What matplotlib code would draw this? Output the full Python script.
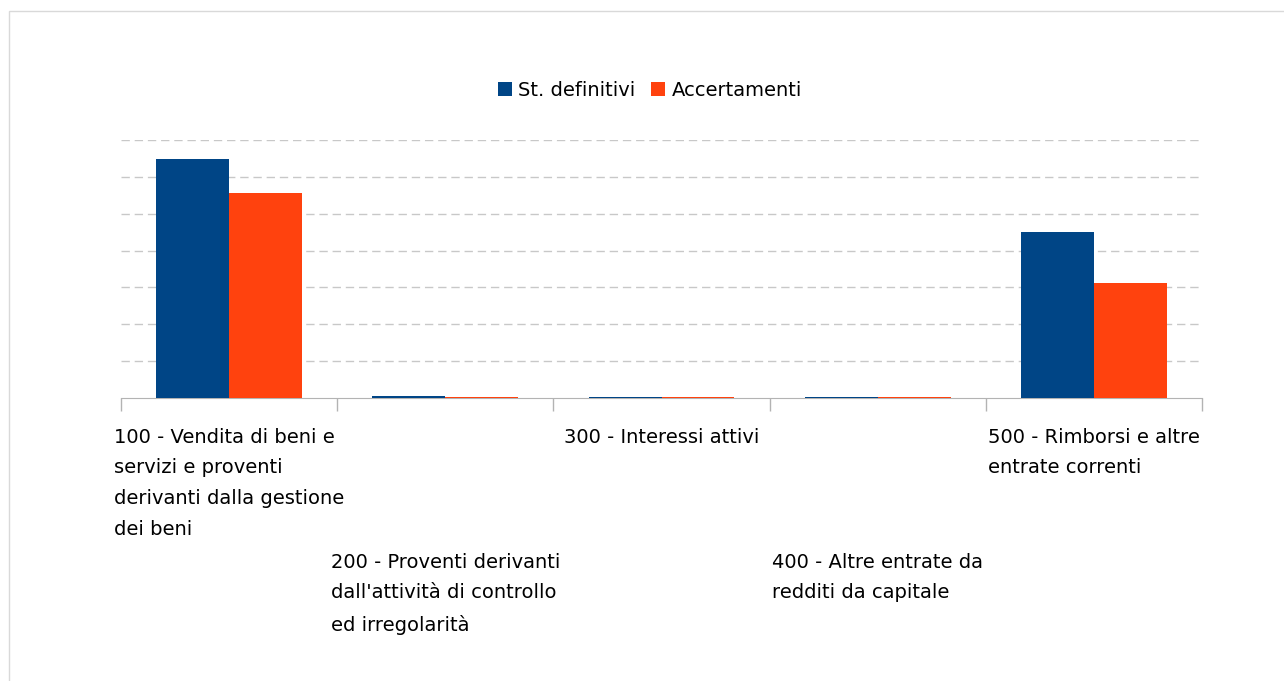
import matplotlib.pyplot as plt
import matplotlib.transforms as mtransforms
from matplotlib.patches import Rectangle
import numpy as np

# dati (unità arbitrarie)
categorie = ['100 - Vendita di beni e\nservizi e proventi\nderivanti dalla gestione\ndei beni',
             '200 - Proventi derivanti\ndall\'attività di controllo\ned irregolarità',
             '300 - Interessi attivi',
             '400 - Altre entrate da\nredditi da capitale',
             '500 - Rimborsi e altre\nentrate correnti']
st_definitivi = [648, 6, 2, 3, 450]
accertamenti = [556, 2, 2, 2, 312]
serie = ['St. definitivi', 'Accertamenti']
colori = ['#004586', '#ff420e']

fig = plt.figure(figsize=(12.84, 6.81), dpi=100)
ax = fig.add_axes([121/1284, 283/681, 1081/1284, 258/681])

x = np.arange(len(categorie))
w = 0.337
ax.bar(x - w/2, st_definitivi, w, color=colori[0], label=serie[0], zorder=3)
ax.bar(x + w/2, accertamenti, w, color=colori[1], label=serie[1], zorder=3)

ax.set_xlim(-0.5, len(categorie) - 0.5)
ax.set_ylim(0, 700)
ax.set_yticks(np.arange(100, 701, 100))
ax.yaxis.grid(True, color='#c8c8c8', linestyle=(0, (6, 3.5)), linewidth=1, zorder=0)
ax.tick_params(axis='y', left=False, labelleft=False)
ax.set_xticks(np.arange(-0.5, len(categorie), 1))
ax.set_xticklabels([])
ax.tick_params(axis='x', length=9, color='#b3b3b3', width=1)
for s in ['top', 'right', 'left']:
    ax.spines[s].set_visible(False)
ax.spines['bottom'].set_color('#b3b3b3')

# etichette sfalsate su due righe
trans = mtransforms.blended_transform_factory(ax.transData, ax.transAxes)
for i, lab in enumerate(categorie):
    y = -0.115 if i % 2 == 0 else -0.60
    ax.text(i, y, lab, transform=trans, ha='center', va='top',
            multialignment='left', fontsize=14, linespacing=1.78)

fig.legend(loc='center', bbox_to_anchor=(650/1284, 1 - 90/681), ncol=2,
           frameon=False, fontsize=14, handlelength=0.7, handleheight=0.7,
           handletextpad=0.35, columnspacing=0.8)

# bordo grigio chiaro
fig.patches.append(Rectangle((9/1284, -0.1), 1.2, (681-11)/681 + 0.1,
                             transform=fig.transFigure, fill=False,
                             edgecolor='#d9d9d9', linewidth=1))

fig.savefig('out.png', dpi=100)
